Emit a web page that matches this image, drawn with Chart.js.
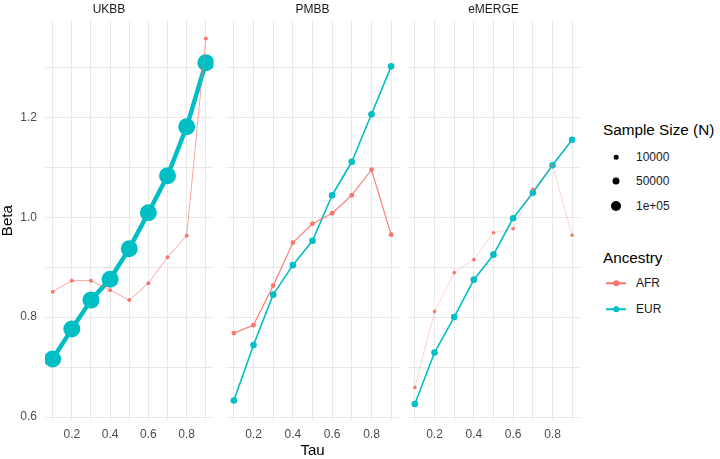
<!DOCTYPE html>
<html lang="en">
<head>
<meta charset="UTF-8">
<title>Beta by Tau</title>
<script src="https://cdn.jsdelivr.net/npm/chart.js@4.4.1/dist/chart.umd.min.js"></script>
<style>
  body { margin: 0; background: #fff; font-family: "Liberation Sans", Arial, sans-serif; }
  #wrap { position: relative; width: 720px; height: 459px; overflow: hidden; }
  canvas { position: absolute; top: 0; }
  .t { position: absolute; transform: translateY(-50%); white-space: nowrap; line-height: 1; }
  .title { font-size: 15.3px; color: #000; }
  .lab { font-size: 12px; color: #1a1a1a; }
  .dot { position: absolute; border-radius: 50%; transform: translate(-50%, -50%); }
  .key { position: absolute; height: 1.5px; width: 20px; transform: translateY(-50%); }
</style>
</head>
<body>
<div id="wrap">
  <canvas id="c0" width="222" height="459" style="left:0px"></canvas>
  <canvas id="c1" width="181" height="459" style="left:222px"></canvas>
  <canvas id="c2" width="181" height="459" style="left:403px"></canvas>

  <!-- legend -->
  <div class="t title" style="left:603px; top:130px">Sample Size (N)</div>
  <div class="dot" style="left:616px; top:157px; width:4.6px; height:4.6px; background:#000"></div>
  <div class="t lab" style="left:636px; top:157px">10000</div>
  <div class="dot" style="left:616px; top:181px; width:7px; height:7px; background:#000"></div>
  <div class="t lab" style="left:636px; top:181px">50000</div>
  <div class="dot" style="left:616px; top:206px; width:10px; height:10px; background:#000"></div>
  <div class="t lab" style="left:636px; top:206px">1e+05</div>

  <div class="t title" style="left:603px; top:258px">Ancestry</div>
  <div class="key" style="left:606px; top:283px; background:#F8766D"></div>
  <div class="dot" style="left:616px; top:283px; width:5.5px; height:5.5px; background:#F8766D"></div>
  <div class="t lab" style="left:636px; top:283px">AFR</div>
  <div class="key" style="left:606px; top:309px; background:#00BFC4"></div>
  <div class="dot" style="left:616px; top:309px; width:5.5px; height:5.5px; background:#00BFC4"></div>
  <div class="t lab" style="left:636px; top:309px">EUR</div>
</div>

<script>
// quantiles
const tau = [0.1, 0.2, 0.3, 0.4, 0.5, 0.6, 0.7, 0.8, 0.9];
const cohorts = ['UKBB', 'PMBB', 'eMERGE'];

// beta estimates
const ukbbAFR   = [0.851, 0.873, 0.873, 0.854, 0.834, 0.868, 0.920, 0.963, 1.358];
const ukbbEUR   = [0.716, 0.776, 0.834, 0.876, 0.937, 1.009, 1.083, 1.181, 1.309];
const pmbbAFR   = [0.768, 0.784, 0.863, 0.949, 0.987, 1.008, 1.044, 1.095, 0.965];
const pmbbEUR   = [0.633, 0.744, 0.845, 0.904, 0.953, 1.044, 1.111, 1.206, 1.302];
const emergeAFR = [0.659, 0.811, 0.889, 0.915, 0.969, 0.977, 1.056, 1.104, 0.964];
const emergeEUR = [0.626, 0.729, 0.800, 0.875, 0.925, 0.998, 1.049, 1.104, 1.155];

const afrSeries = [ukbbAFR, pmbbAFR, emergeAFR];
const eurSeries = [ukbbEUR, pmbbEUR, emergeEUR];

// look of each panel (point size follows sample size)
const RED = '#F8766D', TEAL = '#00BFC4';
const looks = [
  { afr: { r: 2.0, w: 1.0, line: 'rgba(248,118,109,0.65)' }, eur: { r: 8.5, w: 4.5, line: TEAL } },
  { afr: { r: 2.4, w: 1.2, line: 'rgba(248,118,109,0.9)' },  eur: { r: 3.3, w: 1.6, line: TEAL } },
  { afr: { r: 1.8, w: 0.8, line: 'rgba(248,118,109,0.4)' },  eur: { r: 3.3, w: 1.6, line: TEAL } }
];

const GRID = '#e9e9e9';
const FONT = "'Liberation Sans', Arial, sans-serif";

function pts(vals) {
  return tau.map((t, i) => ({ x: t, y: vals[i] }));
}

function everyOther(v) {
  const k = Math.round(v * 10);
  return k % 2 === 0 ? (k / 10).toFixed(1) : '';
}

function makePanel(idx) {
  const look = looks[idx];
  const first = idx === 0;
  const ctx = document.getElementById('c' + idx).getContext('2d');
  new Chart(ctx, {
    type: 'line',
    data: {
      datasets: [
        { data: pts(eurSeries[idx]), showLine: false, pointRadius: look.eur.r,
          pointBackgroundColor: TEAL, pointBorderWidth: 0, order: 4 },
        { data: pts(afrSeries[idx]), showLine: false, pointRadius: look.afr.r,
          pointBackgroundColor: RED, pointBorderWidth: 0, order: 3 },
        { data: pts(eurSeries[idx]), pointRadius: 0, borderColor: look.eur.line,
          borderWidth: look.eur.w, borderJoinStyle: 'round', order: 2 },
        { data: pts(afrSeries[idx]), pointRadius: 0, borderColor: look.afr.line,
          borderWidth: look.afr.w, borderJoinStyle: 'round', order: 1 }
      ]
    },
    options: {
      responsive: false,
      animation: false,
      events: [],
      layout: { padding: { left: first ? 0 : 4, right: 4, top: 0, bottom: 0 } },
      plugins: {
        legend: { display: false },
        tooltip: { enabled: false },
        title: {
          display: true,
          text: cohorts[idx],
          color: '#1a1a1a',
          font: { family: FONT, size: 12, weight: 'normal', lineHeight: 1.2 },
          padding: { top: 2, bottom: 4 }
        }
      },
      scales: {
        x: {
          type: 'linear',
          min: 0.06, max: 0.94,
          afterFit: s => { s.height = 38; },
          border: { display: false },
          grid: { color: GRID, lineWidth: 1, drawTicks: false },
          ticks: {
            stepSize: 0.1, includeBounds: false, autoSkip: false, maxRotation: 0,
            padding: 6, color: '#4d4d4d',
            font: { family: FONT, size: 12 },
            callback: everyOther
          },
          title: {
            display: idx === 1,
            text: 'Tau',
            color: '#000',
            font: { family: FONT, size: 15, lineHeight: 1 },
            padding: { top: 0, bottom: 1 }
          }
        },
        y: {
          min: 0.592, max: 1.394,
          afterFit: s => { s.width = first ? 45 : 0; },
          border: { display: false },
          grid: { color: GRID, lineWidth: 1, drawTicks: false },
          ticks: {
            display: first,
            stepSize: 0.1, includeBounds: false, autoSkip: false,
            padding: 8, color: '#4d4d4d',
            font: { family: FONT, size: 12 },
            callback: everyOther
          },
          title: {
            display: first,
            text: 'Beta',
            color: '#000',
            font: { family: FONT, size: 15, lineHeight: 1 },
            padding: { top: 0, bottom: 0 }
          }
        }
      }
    }
  });
}

cohorts.forEach((c, i) => makePanel(i));
</script>
</body>
</html>
